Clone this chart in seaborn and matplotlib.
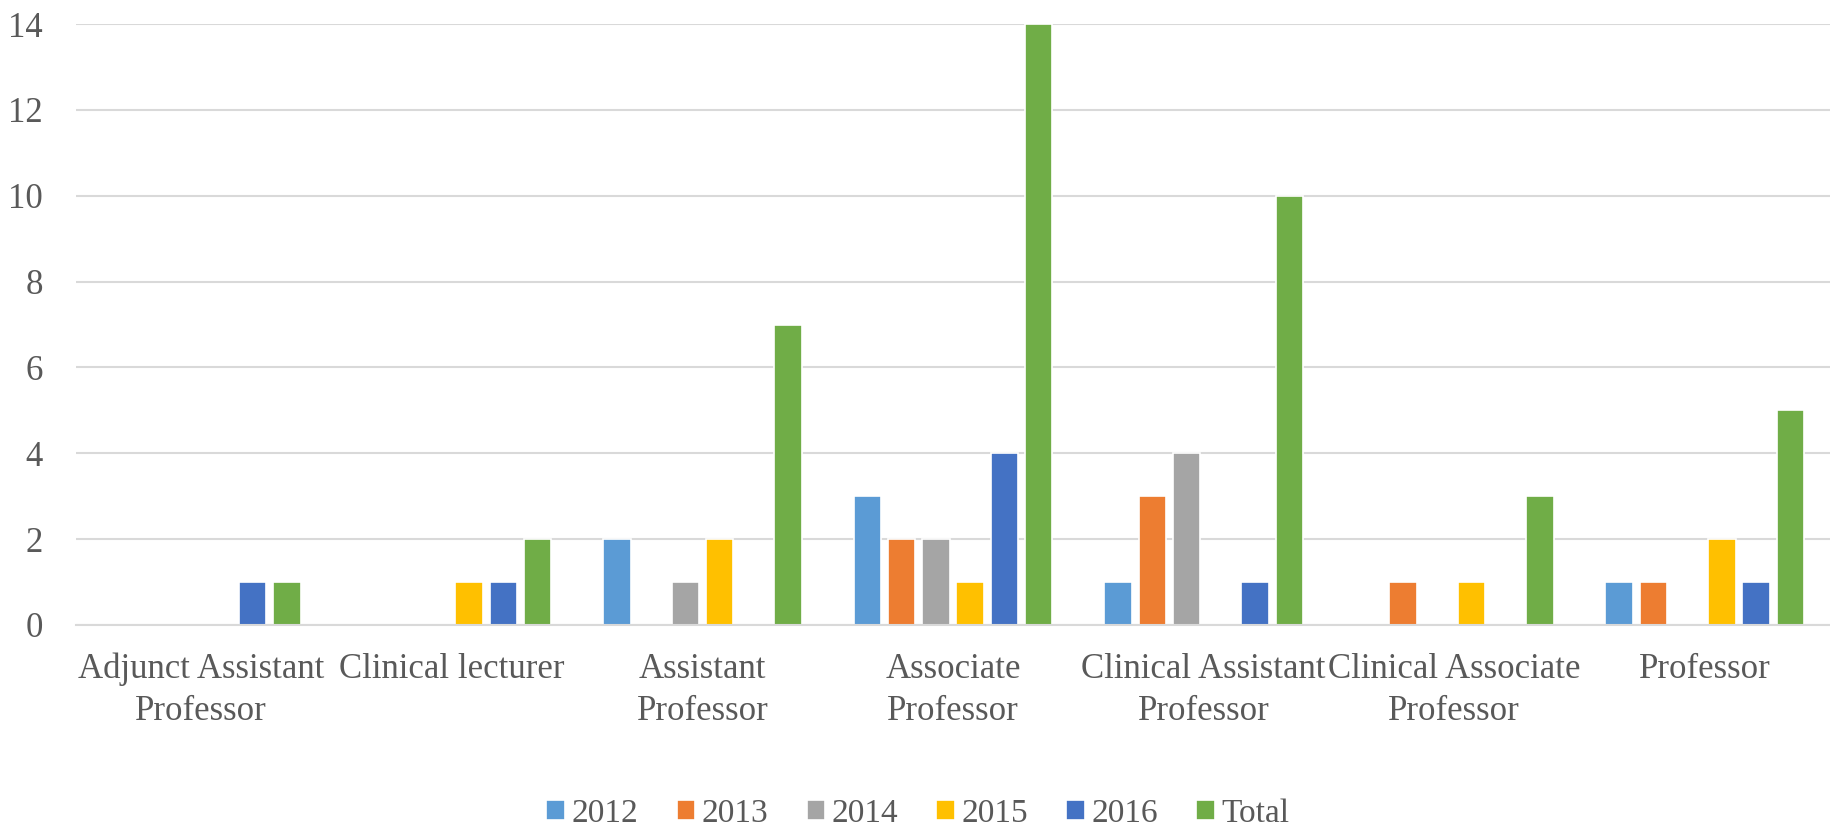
import matplotlib.pyplot as plt
import seaborn as sns
import pandas as pd

# Faculty rank counts by year
ranks = ['Adjunct Assistant\nProfessor', 'Clinical lecturer', 'Assistant\nProfessor',
         'Associate\nProfessor', 'Clinical Assistant\nProfessor',
         'Clinical Associate\nProfessor', 'Professor']
series = ['2012', '2013', '2014', '2015', '2016', 'Total']
y2012 = [0, 0, 2, 3, 1, 0, 1]
y2013 = [0, 0, 0, 2, 3, 1, 1]
y2014 = [0, 0, 1, 2, 4, 0, 0]
y2015 = [0, 1, 2, 1, 0, 1, 2]
y2016 = [1, 1, 0, 4, 1, 0, 1]
total = [1, 2, 7, 14, 10, 3, 5]
colors = ['#5B9BD5', '#ED7D31', '#A5A5A5', '#FFC000', '#4472C4', '#70AD47']

rows = []
for name, vals in zip(series, [y2012, y2013, y2014, y2015, y2016, total]):
    for r, v in zip(ranks, vals):
        rows.append({'rank': r, 'year': name, 'count': v})
df = pd.DataFrame(rows)

sns.set_theme(style="white")
plt.rcParams['font.family'] = ['Liberation Serif', 'DejaVu Serif']

fig = plt.figure(figsize=(18.31, 8.30), dpi=100)
ax = fig.add_axes([0.0415, 0.247, 0.958, 0.724])

sns.barplot(data=df, x='rank', y='count', hue='year', hue_order=series,
            order=ranks, palette=colors, saturation=1, width=0.82, gap=0.2,
            edgecolor='white', linewidth=1.2, ax=ax)

ax.set_ylim(0, 14)
ax.set_yticks(range(0, 15, 2))
ax.yaxis.grid(True, color='#D9D9D9', linewidth=1.5)
ax.set_axisbelow(True)
for s in ['top', 'right', 'left']:
    ax.spines[s].set_visible(False)
ax.spines['bottom'].set_color('#D9D9D9')
ax.spines['bottom'].set_linewidth(1.5)
ax.set_xlabel('')
ax.set_ylabel('')
ax.tick_params(axis='y', labelsize=25, labelcolor='#595959', length=0, pad=24)
ax.tick_params(axis='x', labelsize=25, labelcolor='#595959', length=0, pad=20)
for lbl in ax.get_xticklabels():
    lbl.set_linespacing(1.35)

leg = ax.legend(loc='center', bbox_to_anchor=(0.48, -0.314), ncol=6,
                frameon=False, fontsize=24, handlelength=0.55, handleheight=0.55,
                handletextpad=0.2, columnspacing=1.15)
for t in leg.get_texts():
    t.set_color('#595959')

fig.savefig('out.png', dpi=100)
